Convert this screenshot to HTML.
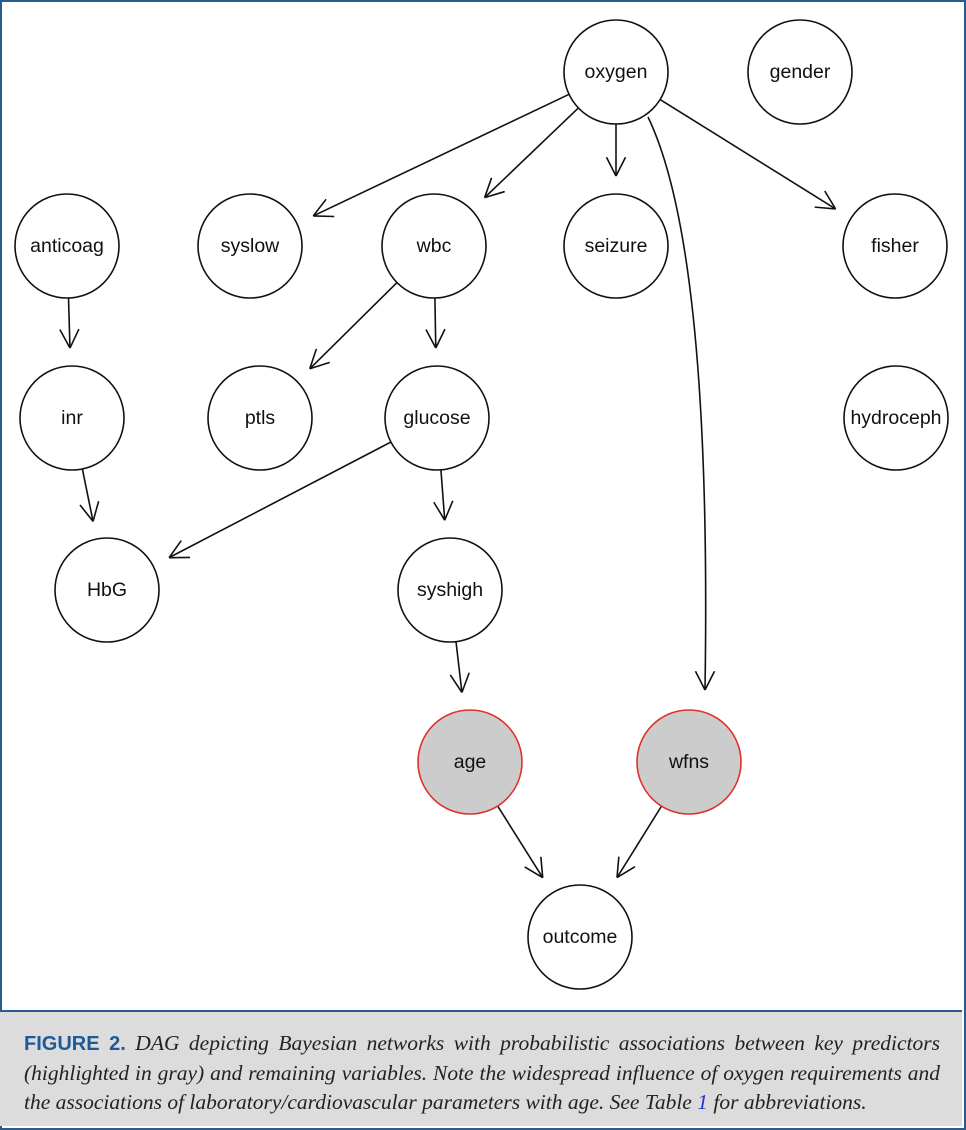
<!DOCTYPE html>
<html><head><meta charset="utf-8"><style>
body{margin:0;width:966px;height:1130px;overflow:hidden;background:#fff}
#wrap{position:absolute;left:0;top:0;width:962px;height:1126px;border:2px solid #2b5b8e}
#cap{position:absolute;left:0;top:1010px;width:962px;height:116px;background:#dcdcdc;border-top:2px solid #2b5b8e;box-sizing:border-box;padding:17px 22px 0 24px;font-family:"Liberation Serif",serif;font-style:italic;font-size:21.5px;line-height:29px;text-align:justify;color:#222}
#cap b{font-family:"Liberation Sans",sans-serif;font-style:normal;color:#1e5a96;font-size:20px}
svg{position:absolute;left:0;top:0}
svg text{font-family:"Liberation Sans",sans-serif;font-size:19.5px;text-anchor:middle;dominant-baseline:central;fill:#111}
</style></head><body>
<div id="wrap"></div>
<svg id="g" width="966" height="1010" viewBox="0 0 966 1010"></svg>
<div id="cap"><b>FIGURE 2.</b> DAG depicting Bayesian networks with probabilistic associations between key predictors (highlighted in gray) and remaining variables. Note the widespread influence of oxygen requirements and the associations of laboratory/cardiovascular parameters with age. See Table <span style="color:#2233cc">1</span> for abbreviations.</div>
<script>
var N={oxygen:[616,72],gender:[800,72],anticoag:[67,246],syslow:[250,246],wbc:[434,246],seizure:[616,246],fisher:[895,246],
inr:[72,418],ptls:[260,418],glucose:[437,418],hydroceph:[896,418],HbG:[107,590],syshigh:[450,590],age:[470,762],wfns:[689,762],outcome:[580,937]};
var R=52,s='';
function arrow(x,y,dx,dy){var a=Math.atan2(dy,dx),L=21,o='';[0.47,-0.47].forEach(function(t){o+='<line x1="'+x+'" y1="'+y+'" x2="'+(x-L*Math.cos(a+t))+'" y2="'+(y-L*Math.sin(a+t))+'" stroke="#111" stroke-width="1.6"/>'});return o;}
var E=[['oxygen','syslow'],['oxygen','wbc'],['oxygen','seizure'],['oxygen','fisher'],['anticoag','inr'],['wbc','ptls'],['wbc','glucose'],['inr','HbG'],['glucose','HbG'],['glucose','syshigh'],['syshigh','age'],['age','outcome'],['wfns','outcome']];
E.forEach(function(e){var a=N[e[0]],b=N[e[1]],dx=b[0]-a[0],dy=b[1]-a[1],d=Math.hypot(dx,dy),ux=dx/d,uy=dy/d;
var x1=a[0]+ux*R,y1=a[1]+uy*R,x2=b[0]-ux*(R+18),y2=b[1]-uy*(R+18);
s+='<line x1="'+x1+'" y1="'+y1+'" x2="'+x2+'" y2="'+y2+'" stroke="#111" stroke-width="1.6"/>'+arrow(x2,y2,dx,dy);});
s+='<path d="M648,117 Q712,250 705,690" fill="none" stroke="#111" stroke-width="1.6"/>'+arrow(705,690,0,1);
for(var k in N){var g=(k=='age'||k=='wfns');s+='<circle cx="'+N[k][0]+'" cy="'+N[k][1]+'" r="'+R+'" fill="'+(g?'#cccccc':'#fff')+'" stroke="'+(g?'#e0302a':'#111')+'" stroke-width="1.6"/><text x="'+N[k][0]+'" y="'+N[k][1]+'">'+k+'</text>';}
document.getElementById('g').innerHTML=s;
</script>
</body></html>
